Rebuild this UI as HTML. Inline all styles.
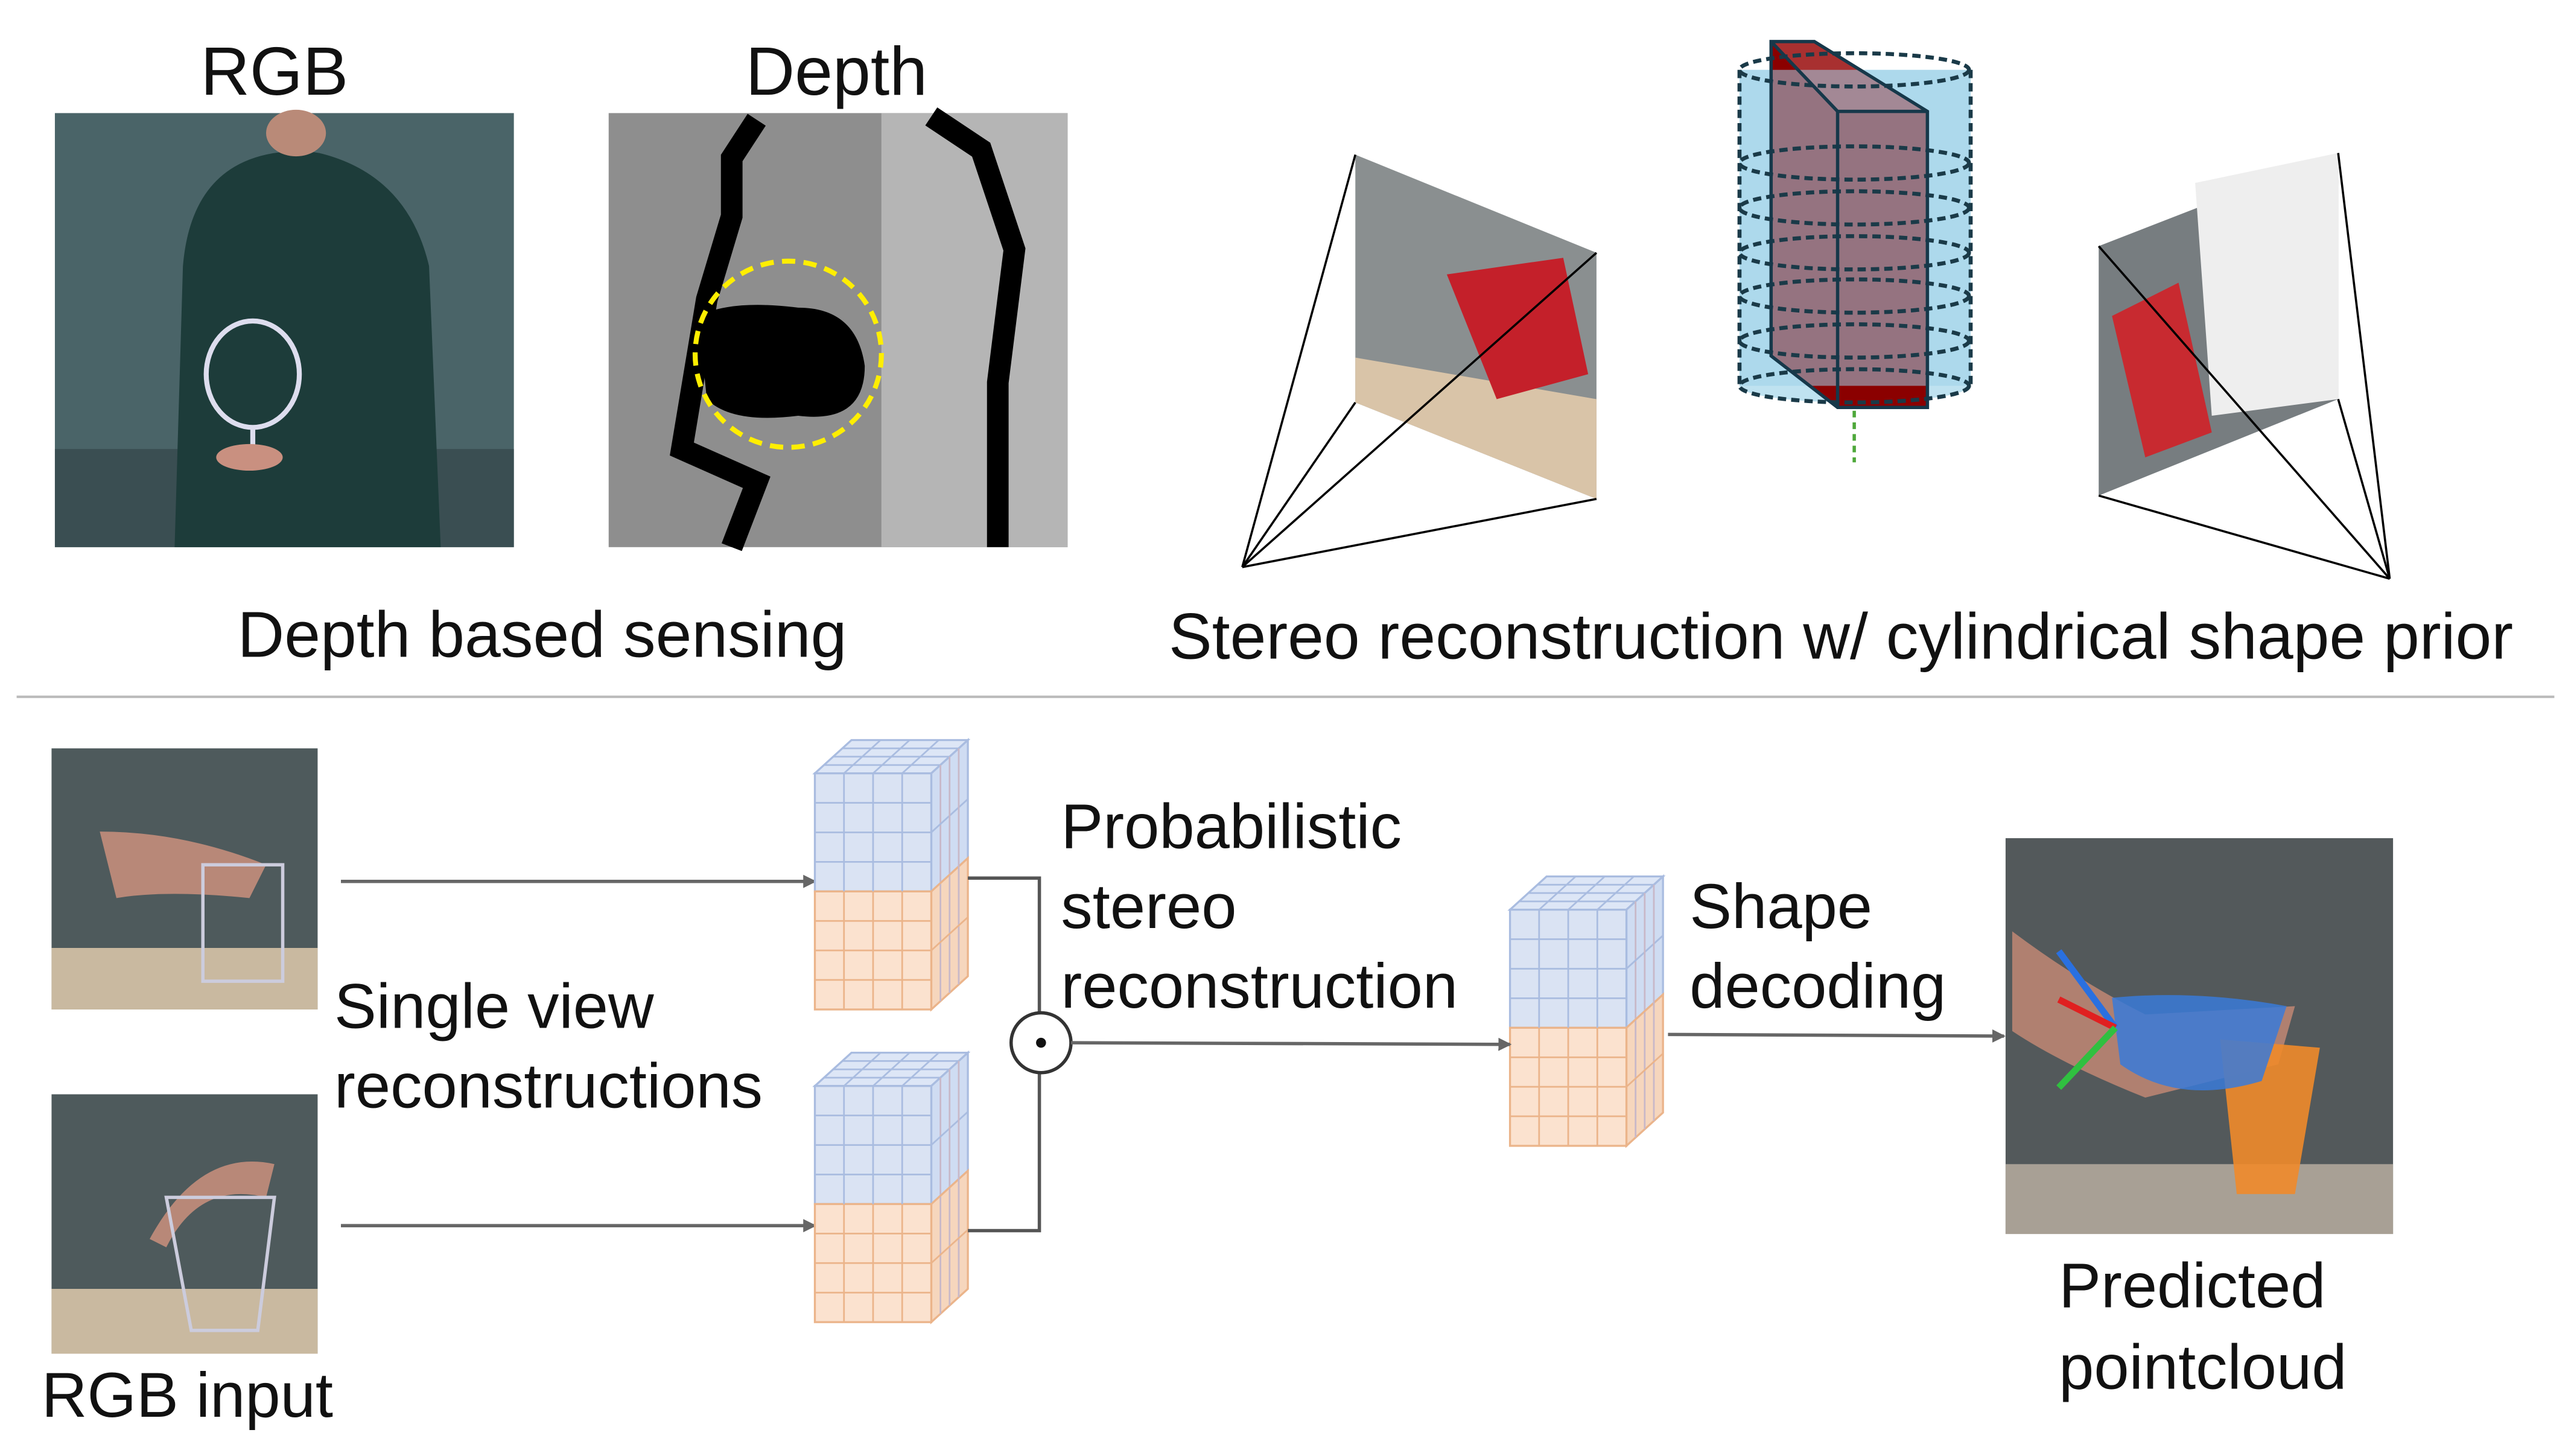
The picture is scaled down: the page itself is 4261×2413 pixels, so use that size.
<!DOCTYPE html>
<html><head><meta charset="utf-8"><style>
html,body{margin:0;padding:0;background:#fff;}
svg{display:block;}
text{font-family:"Liberation Sans","DejaVu Sans",sans-serif;fill:#111;}
</style></head><body>
<svg id="s" width="4261" height="2413" viewBox="0 0 1546 875.5" xmlns="http://www.w3.org/2000/svg">
<defs>
<marker id="ar" markerWidth="8" markerHeight="8" refX="7" refY="4" orient="auto" markerUnits="userSpaceOnUse"><path d="M0,0 L8,4 L0,8 z" fill="#666"/></marker>
</defs>
<text x="165" y="57" font-size="41" text-anchor="middle">RGB</text>
<text x="503" y="57" font-size="41" text-anchor="middle">Depth</text>
<g>
<rect x="33" y="68" width="276" height="261" fill="#4a6468"/>
<rect x="33" y="270" width="276" height="59" fill="#3a4e52"/>
<path d="M105,329 L110,160 Q115,100 165,92 Q180,90 192,92 Q245,105 258,160 L265,329 Z" fill="#1d3c3a"/>
<ellipse cx="178" cy="80" rx="18" ry="14" fill="#b98a78"/>
<ellipse cx="152" cy="225" rx="28" ry="32" fill="none" stroke="#dde" stroke-width="3"/>
<line x1="152" y1="257" x2="152" y2="280" stroke="#dde" stroke-width="3"/>
<ellipse cx="150" cy="275" rx="20" ry="8" fill="#c99080"/>
</g>
<g>
<rect x="366" y="68" width="276" height="261" fill="#8e8e8e"/>
<rect x="530" y="68" width="112" height="261" fill="#b5b5b5"/>
<path d="M600,329 L600,230 L610,150 L590,90 L560,70 M440,329 L455,290 L410,270 L425,180 L440,130 L440,95 L455,72" fill="none" stroke="#000" stroke-width="13"/>
<path d="M420,190 Q440,180 480,185 Q515,185 520,220 Q520,255 480,250 Q440,255 425,240 Z" fill="#000"/>
<circle cx="474" cy="213" r="56" fill="none" stroke="#ffee00" stroke-width="3" stroke-dasharray="8,5"/>
</g>
<text x="326" y="395" font-size="39" text-anchor="middle">Depth based sensing</text>

<g stroke="#000" stroke-width="1.3" fill="none">
<polygon points="815,93 960,152 960,300 815,242" fill="#8a8f90" stroke="none"/>
<polygon points="815,215 960,240 960,300 815,242" fill="#d9c4a8" stroke="none"/>
<polygon points="870,165 940,155 955,225 900,240" fill="#c4202a" stroke="none"/>
<line x1="747" y1="341" x2="815" y2="93"/><line x1="747" y1="341" x2="815" y2="242"/>
<line x1="747" y1="341" x2="960" y2="300"/><line x1="747" y1="341" x2="960" y2="152"/>
</g>
<g stroke="#000" stroke-width="1.3" fill="none">
<polygon points="1262,148 1406,92 1406,240 1262,298" fill="#777d80" stroke="none"/>
<polygon points="1320,110 1406,92 1406,240 1330,250" fill="#eeeeee" stroke="none"/>
<polygon points="1270,190 1310,170 1330,260 1290,275" fill="#c82a30" stroke="none"/>
<line x1="1437" y1="348" x2="1406" y2="92"/><line x1="1437" y1="348" x2="1406" y2="240"/>
<line x1="1437" y1="348" x2="1262" y2="298"/><line x1="1437" y1="348" x2="1262" y2="148"/>
</g>
<g>
<rect x="1046" y="42" width="139" height="190" fill="#bfe2f0"/>
<ellipse cx="1115" cy="232" rx="69" ry="10" fill="#bfe2f0"/>
<polygon points="1065,25 1091,25 1159,67 1159,245 1105,245 1065,214" fill="#8b0000"/>
<polygon points="1065,25 1091,25 1159,67 1105,67" fill="#a83030"/>
<rect x="1046" y="42" width="139" height="190" fill="#9fd2ea" opacity="0.55"/>
<g fill="none" stroke="#1a3a48" stroke-width="2.4" stroke-dasharray="5,3">
<ellipse cx="1115" cy="42" rx="69" ry="10"/><ellipse cx="1115" cy="98" rx="69" ry="10"/><ellipse cx="1115" cy="152" rx="69" ry="10"/><ellipse cx="1115" cy="205" rx="69" ry="10"/><ellipse cx="1115" cy="232" rx="69" ry="10"/>
<line x1="1046" y1="42" x2="1046" y2="232"/><line x1="1185" y1="42" x2="1185" y2="232"/>
<ellipse cx="1115" cy="125" rx="69" ry="10"/><ellipse cx="1115" cy="178" rx="69" ry="10"/>
</g>
<g fill="none" stroke="#16384a" stroke-width="2"><polygon points="1065,25 1091,25 1159,67 1159,245 1105,245 1065,214"/><line x1="1065" y1="25" x2="1105" y2="67"/><line x1="1105" y1="67" x2="1159" y2="67"/><line x1="1105" y1="67" x2="1105" y2="245"/></g>
<line x1="1115" y1="247" x2="1115" y2="278" stroke="#4ea83a" stroke-width="2" stroke-dasharray="4,3"/>
</g>
<text x="1107" y="396" font-size="39" text-anchor="middle">Stereo reconstruction w/ cylindrical shape prior</text>
<line x1="10" y1="419" x2="1536" y2="419" stroke="#bbb" stroke-width="1.5"/>

<g><rect x="31" y="450" width="160" height="157" fill="#4e5a5c"/><rect x="31" y="570" width="160" height="37" fill="#c9b9a0"/><path d="M60,500 Q110,500 160,520 L150,540 Q100,535 70,540 Z" fill="#b88878"/><rect x="122" y="520" width="48" height="70" fill="none" stroke="#ccd" stroke-width="2"/></g>
<g><rect x="31" y="658" width="160" height="156" fill="#4e5a5c"/><rect x="31" y="775" width="160" height="39" fill="#c9b9a0"/><path d="M90,745 Q120,690 165,700 L160,720 Q120,710 100,750 Z" fill="#b88878"/><path d="M100,720 L165,720 L155,800 L115,800 Z" fill="none" stroke="#ccd" stroke-width="2"/></g>
<text x="201" y="618" font-size="38">Single view</text>
<text x="201" y="666" font-size="38">reconstructions</text>
<text x="25" y="852" font-size="38">RGB input</text>
<line x1="205" y1="530" x2="490" y2="530" stroke="#666" stroke-width="2" marker-end="url(#ar)"/>
<line x1="205" y1="737" x2="490" y2="737" stroke="#666" stroke-width="2" marker-end="url(#ar)"/>
<g id="cubes"></g>
<polyline points="582,528 625,528 625,609" fill="none" stroke="#555" stroke-width="2"/>
<polyline points="582,740 625,740 625,645" fill="none" stroke="#555" stroke-width="2"/>
<circle cx="626" cy="627" r="18" fill="#fff" stroke="#333" stroke-width="2"/>
<circle cx="626" cy="627" r="3" fill="#111"/>
<line x1="644" y1="627" x2="908" y2="628" stroke="#666" stroke-width="2" marker-end="url(#ar)"/>
<line x1="1003" y1="622" x2="1205" y2="623" stroke="#666" stroke-width="2" marker-end="url(#ar)"/>
<text x="638" y="510" font-size="38">Probabilistic</text>
<text x="638" y="558" font-size="38">stereo</text>
<text x="638" y="606" font-size="38">reconstruction</text>
<text x="1016" y="558" font-size="38">Shape</text>
<text x="1016" y="606" font-size="38">decoding</text>
<g><rect x="1206" y="504" width="233" height="238" fill="#53595b"/><rect x="1206" y="700" width="233" height="42" fill="#a8a095"/><path d="M1210,560 Q1250,590 1290,610 L1380,605 L1370,640 L1290,660 Q1240,640 1210,620 Z" fill="#b08070"/><path d="M1335,625 L1395,630 L1380,718 L1345,718 Z" fill="#f08a2a" opacity="0.9"/><path d="M1270,600 Q1320,595 1375,605 L1360,650 Q1310,665 1275,640 Z" fill="#3a7ad8" opacity="0.85"/><line x1="1272" y1="618" x2="1238" y2="572" stroke="#2a70e0" stroke-width="4"/><line x1="1272" y1="618" x2="1238" y2="601" stroke="#e02020" stroke-width="4"/><line x1="1272" y1="618" x2="1238" y2="654" stroke="#30c040" stroke-width="4"/></g>
<text x="1238" y="786" font-size="38">Predicted</text>
<text x="1238" y="835" font-size="38">pointcloud</text>
</svg>
<script>
const cubeX=[490,490,908];
const cubeY=[465,653,547];
const cubeNames=['feature-volume-view1','feature-volume-view2','feature-volume-fused'];
const NS='http://www.w3.org/2000/svg';
const root=document.getElementById('cubes');
function mk(t,a,p){const e=document.createElementNS(NS,t);for(const k in a)e.setAttribute(k,a[k]);p.appendChild(e);return e;}
for(let i=0;i<3;i++){
 const x=cubeX[i],y=cubeY[i],w=70,h=142,d=22,dy=-20;
 const g=mk('g',{},root);
 
 
 const hb=h/2;
 mk('polygon',{points:`${x},${y} ${x+d},${y+dy} ${x+w+d},${y+dy} ${x+w},${y}`,fill:'#dde6f6',stroke:'#a9bce0','stroke-width':1.2},g);
 mk('polygon',{points:`${x+w},${y} ${x+w+d},${y+dy} ${x+w+d},${y+hb+dy} ${x+w},${y+hb}`,fill:'#cfdcf2',stroke:'#a9bce0','stroke-width':1.2},g);
 mk('polygon',{points:`${x+w},${y+hb} ${x+w+d},${y+hb+dy} ${x+w+d},${y+h+dy} ${x+w},${y+h}`,fill:'#f6d6bd',stroke:'#ebb48a','stroke-width':1.2},g);
 mk('rect',{x:x,y:y,width:w,height:hb,fill:'#dae3f3',stroke:'#a9bce0','stroke-width':1.2},g);
 mk('rect',{x:x,y:y+hb,width:w,height:hb,fill:'#fbe2cf',stroke:'#ebb48a','stroke-width':1.2},g);
 for(let k=1;k<4;k++){
  const gx=x+w*k/4;
  mk('line',{x1:gx,y1:y,x2:gx,y2:y+hb,stroke:'#a9bce0'},g);
  mk('line',{x1:gx,y1:y+hb,x2:gx,y2:y+h,stroke:'#ebb48a'},g);
  mk('line',{x1:x+d*k/4,y1:y+dy*k/4,x2:x+w+d*k/4,y2:y+dy*k/4,stroke:'#a9bce0'},g);
  mk('line',{x1:gx,y1:y,x2:gx+d,y2:y+dy,stroke:'#a9bce0'},g);
  mk('line',{x1:x+w+d*k/4,y1:y+dy*k/4,x2:x+w+d*k/4,y2:y+h+dy*k/4,stroke:'#c8b8c8'},g);
  mk('line',{x1:x,y1:y+hb*k/4,x2:x+w,y2:y+hb*k/4,stroke:'#a9bce0'},g);
  mk('line',{x1:x,y1:y+hb+hb*k/4,x2:x+w,y2:y+hb+hb*k/4,stroke:'#ebb48a'},g);
  mk('line',{x1:x+w,y1:y+h*k/4,x2:x+w+d,y2:y+h*k/4+dy,stroke:k<2?'#a9bce0':'#ebb48a'},g);
 }
}
</script>
</body></html>
